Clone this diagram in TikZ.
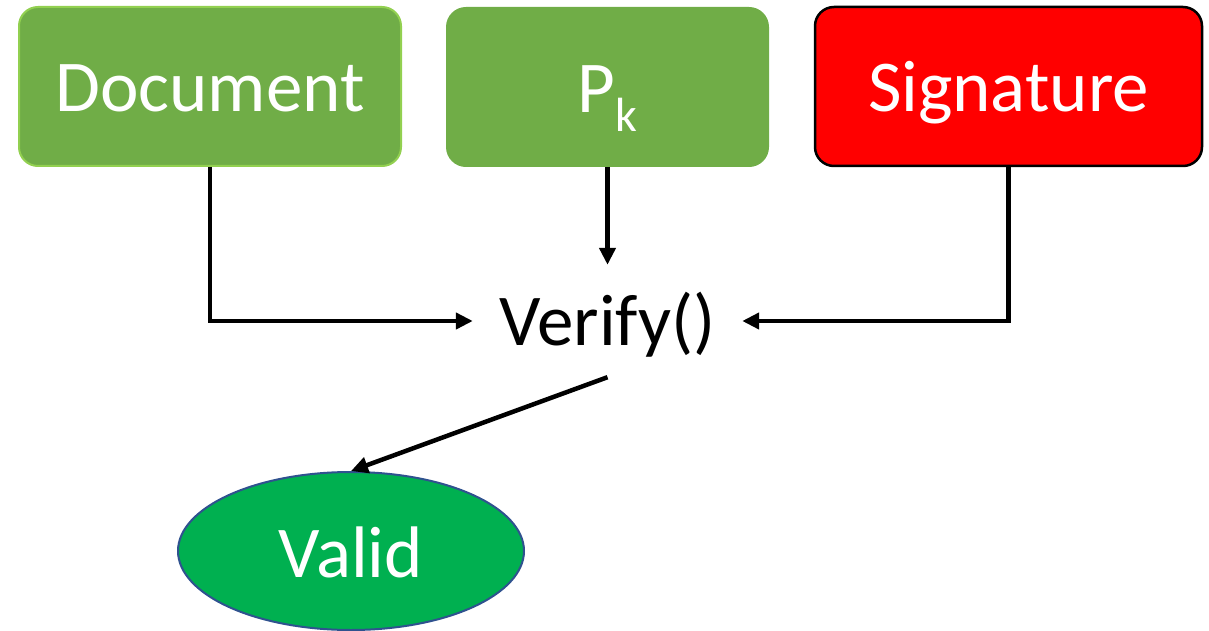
\documentclass[tikz,border=0pt]{standalone}
\usepackage{fontspec}
\setmainfont{Carlito}
\usetikzlibrary{arrows.meta,shapes.geometric}

\definecolor{leafgreen}{HTML}{70AD47}
\definecolor{limeedge}{HTML}{92D050}
\definecolor{alertred}{HTML}{FF0000}
\definecolor{validgreen}{HTML}{00B050}
\definecolor{navyedge}{HTML}{2F528F}

\tikzset{
  x=1pt, y=-1pt,
  bigtext/.style={font=\fontsize{73}{80}\selectfont, text=white},
  inputbox/.style={bigtext, rectangle, rounded corners=19pt, inner sep=0pt,
    text height=51pt, text depth=0pt, line width=2pt},
  flow/.style={line width=4.5pt, -{Triangle[length=17pt,width=16pt]}},
}

\begin{document}
\begin{tikzpicture}
  \useasboundingbox (0,0) rectangle (1209,631);

  % inputs
  \node[inputbox, fill=leafgreen, draw=limeedge,
        minimum width=382pt, minimum height=159pt] (doc) at (210,86.5) {Document};
  \node[inputbox, fill=leafgreen, draw=leafgreen,
        minimum width=321pt, minimum height=158pt] (pk) at (607.5,87)
        {P\raisebox{-19pt}{\fontsize{48}{52}\selectfont k}};
  \node[inputbox, fill=alertred, draw=black, line width=2.5pt,
        minimum width=387pt, minimum height=159pt] (sig) at (1008.5,86.5) {Signature};

  % verification step
  \node[font=\fontsize{73}{80}\selectfont, inner sep=0pt, text height=48pt, text depth=0pt,
        minimum width=269pt, minimum height=112pt] (verify) at (607.5,321) {Verify()};

  % result
  \node[ellipse, bigtext, fill=validgreen, draw=navyedge, line width=2pt, inner sep=0pt,
        text height=52pt, text depth=0pt,
        minimum width=346pt, minimum height=158pt] (valid) at (351,551) {Valid};

  % connectors
  \draw[flow] (doc.south) |- (verify.west);
  \draw[flow] (pk.south) -- (verify.north);
  \draw[flow] (sig.south) |- (verify.east);
  \draw[flow] (verify.south) -- (valid.north);
\end{tikzpicture}
\end{document}
